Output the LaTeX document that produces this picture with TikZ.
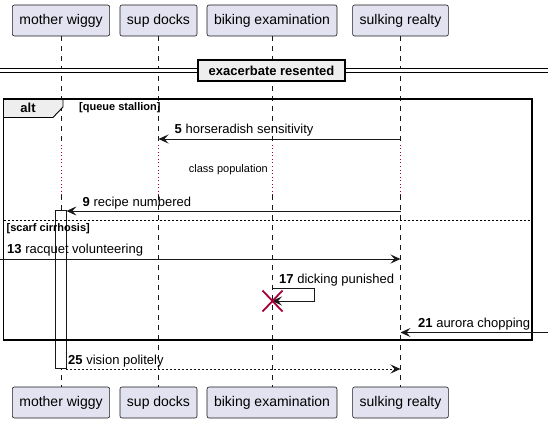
\documentclass[tikz,border=0pt]{standalone}
\usepackage{fontspec}
\setmainfont{Liberation Sans}
\usetikzlibrary{arrows.meta}
\definecolor{uml_box}{RGB}{226, 226, 240}
\definecolor{uml_line}{RGB}{24, 24, 24}
\definecolor{uml_grey}{RGB}{238, 238, 238}
\definecolor{uml_red}{RGB}{168, 0, 54}
\tikzstyle{pn}=[rectangle,rounded corners=2pt,fill=uml_box,draw=uml_line,
  line width=0.6pt,inner xsep=7pt,minimum height=31pt,font=\fontsize{14}{16}\selectfont]
\tikzstyle{life}=[draw=uml_line,line width=0.5pt,dash pattern=on 5pt off 5pt]
\tikzstyle{dly}=[draw=uml_red,line width=0.8pt,dash pattern=on 1pt off 2.5pt]
\tikzstyle{msg}=[draw=uml_line,line width=0.9pt,-{Stealth[length=10pt,width=9pt,inset=4pt]}]
\tikzstyle{ret}=[msg,dash pattern=on 2pt off 2pt]
\tikzstyle{lbl}=[inner sep=0pt,anchor=base west,font=\fontsize{13}{15}\selectfont]
\tikzstyle{grd}=[inner sep=0pt,anchor=base west,font=\fontsize{11}{13}\selectfont\bfseries]
\tikzstyle{act}=[rectangle,fill=white,draw=uml_line,line width=0.8pt,minimum width=11pt,minimum height=158pt,inner sep=0pt]

\begin{document}
\begin{tikzpicture}[x=1pt,y=-1pt]
    \useasboundingbox (0,0) rectangle (548,422);
    % participants
    \node [style=pn] (mw) at (61,20.5) {mother wiggy};
    \node [style=pn] (sd) at (158.5,20.5) {sup docks};
    \node [style=pn] (be) at (272,20.5) {biking examination};
    \node [style=pn] (sr) at (400.5,20.5) {sulking realty};
    \node [style=pn] (mw-b) at (61,402.5) {mother wiggy};
    \node [style=pn] (sd-b) at (158.5,402.5) {sup docks};
    \node [style=pn] (be-b) at (272,402.5) {biking examination};
    \node [style=pn] (sr-b) at (400.5,402.5) {sulking realty};
    \coordinate (dtop) at (0,145);
    \coordinate (dbot) at (0,195);
    \foreach \p in {mw,sd,be,sr} {
      \draw [style=life] (\p.south) to (\p.south |- dtop);
      \draw [style=dly] (\p.south |- dtop) to (\p.south |- dbot);
      \draw [style=life] (\p.south |- dbot) to (\p-b.north);
    }
    % activation
    \node [style=act] (act) at (60.5,289.5) {};
    % separator
    \draw [draw=black,line width=0.9pt,double=white,double distance=3pt] (0,70.5) to (548,70.5);
    \node [rectangle,fill=uml_grey,draw=black,line width=1.4pt,minimum width=147pt,minimum height=21pt,
      font=\fontsize{13}{15}\selectfont\bfseries] (sep) at (271.5,70.5) {exacerbate resented};
    % alt frame
    \draw [fill=uml_grey,draw=black,line width=0.9pt] (3.5,99) -- (63,99) -- (63,107) -- (53,117.5) -- (3.5,117.5);
    \draw [draw=black,line width=1.4pt] (3.5,99) rectangle (532,340);
    \node [font=\fontsize{13}{15}\selectfont\bfseries] (alt) at (28,107.5) {alt};
    \node [style=grd] (g1) at (79,110.5) {[queue stallion]};
    \draw [draw=black,line width=0.6pt,dash pattern=on 2pt off 2pt] (3.5,220) to (532,220);
    \node [style=grd] (g2) at (6.5,231) {[scarf cirrhosis]};
    % messages
    \coordinate (m5) at (0,139);
    \coordinate (m9) at (0,211);
    \coordinate (m13) at (0,259);
    \coordinate (m17a) at (0,288);
    \coordinate (m17b) at (0,301);
    \coordinate (m21) at (0,332.5);
    \coordinate (m25) at (0,369);
    \coordinate (lft) at (0,0);
    \coordinate (rgt) at (548,0);
    \coordinate (loop) at (314,0);
    \draw [style=msg] (sr |- m5) to (sd |- m5);
    \node [style=lbl] (t5) at (174.5,134) {\textbf{5} horseradish sensitivity};
    \node [inner sep=0pt,anchor=east,font=\fontsize{11}{13}\selectfont] (dl) at (268,169.5) {class population};
    \draw [style=msg] (sr |- m9) to (act.east |- m9);
    \node [style=lbl] (t9) at (82.5,206) {\textbf{9} recipe numbered};
    \draw [style=msg] (lft |- m13) to (sr |- m13);
    \node [style=lbl] (t13) at (7,253.5) {\textbf{13} racquet volunteering};
    \draw [style=msg] (be |- m17a) -- (loop |- m17a) -- (loop |- m17b) -- (be |- m17b);
    \node [style=lbl] (t17) at (279,283) {\textbf{17} dicking punished};
    \coordinate (x17) at (272.5,301);
    \draw [draw=uml_red,line width=1.8pt] (x17) +(-10,-10.5) -- +(10,10.5) (x17) +(-10,10.5) -- +(10,-10.5);
    \draw [style=msg] (rgt |- m21) to (sr |- m21);
    \node [style=lbl] (t21) at (418,327.5) {\textbf{21} aurora chopping};
    \draw [style=ret] (act.east |- m25) to (sr |- m25);
    \node [style=lbl] (t25) at (68,364) {\textbf{25} vision politely};
  \end{tikzpicture}
\end{document}
